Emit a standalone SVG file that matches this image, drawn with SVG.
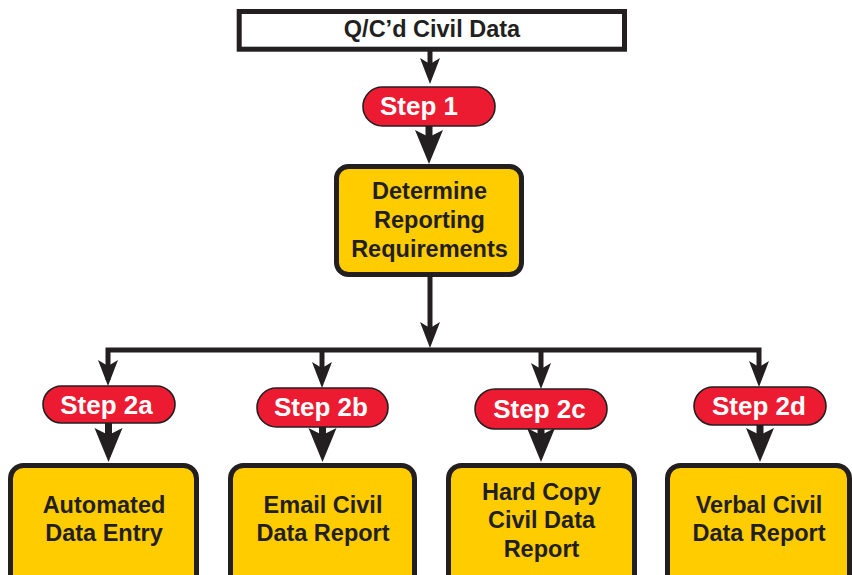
<svg xmlns="http://www.w3.org/2000/svg" width="852" height="575" viewBox="0 0 852 575">
  <style>
    .txt { font-family: "Liberation Sans", Arial, Helvetica, sans-serif; font-weight: bold; text-anchor: middle; fill: #231f20; }
    .big { font-size: 23.5px; }
    .step { font-size: 26px; fill: #ffffff; }
    .box { fill: #ffcc00; stroke: #231f20; stroke-width: 5; }
    .pill { fill: #ed1b31; stroke: #231f20; stroke-width: 1.6; }
    .wire { fill: none; stroke: #231f20; stroke-width: 5; }
    .stem { fill: none; stroke: #231f20; stroke-width: 7; }
    .head { fill: #231f20; }
  </style>
  <defs>
    <!-- notched arrowheads, tip at origin pointing down -->
    <path id="ahS" d="M0,0 L-10,-26 L0,-20 L10,-26 Z"/>
    <path id="ahL" d="M0,0 L-14,-34 L0,-27 L14,-34 Z"/>
  </defs>

  <rect width="852" height="575" fill="#ffffff"/>

  <g id="connectors">
    <!-- source to step 1 -->
    <line class="wire" x1="430" y1="50" x2="430" y2="64"/>
    <use href="#ahS" class="head" x="430" y="84"/>
    <!-- step 1 to determine -->
    <line class="stem" x1="429" y1="126" x2="429" y2="138"/>
    <use href="#ahL" class="head" x="429" y="164"/>
    <!-- determine to bus -->
    <line class="wire" x1="430" y1="277" x2="430" y2="330"/>
    <use href="#ahS" class="head" x="430" y="348"/>
    <!-- distribution bus -->
    <polyline class="wire" points="108,380 108,350 759,350 759,380"/>
    <line class="wire" x1="322" y1="350" x2="322" y2="380"/>
    <line class="wire" x1="541" y1="350" x2="541" y2="380"/>
    <use href="#ahS" class="head" x="108" y="386"/>
    <use href="#ahS" class="head" x="322" y="388"/>
    <use href="#ahS" class="head" x="541" y="389"/>
    <use href="#ahS" class="head" x="759" y="387"/>
    <!-- steps to outputs -->
    <line class="stem" x1="108.5" y1="423" x2="108.5" y2="436"/>
    <use href="#ahL" class="head" x="108.5" y="462"/>
    <line class="stem" x1="322.5" y1="427" x2="322.5" y2="436"/>
    <use href="#ahL" class="head" x="322.5" y="462"/>
    <line class="stem" x1="541" y1="429" x2="541" y2="436"/>
    <use href="#ahL" class="head" x="541" y="462"/>
    <line class="stem" x1="760" y1="425" x2="760" y2="436"/>
    <use href="#ahL" class="head" x="760" y="462"/>
  </g>

  <g id="source">
    <rect x="239.2" y="11.5" width="385.3" height="37.7" fill="#ffffff" stroke="#231f20" stroke-width="5"/>
    <text class="txt big" x="432" y="36.5">Q/C’d Civil Data</text>
  </g>

  <g id="step1">
    <rect class="pill" x="363" y="87" width="132" height="39" rx="19.5"/>
    <text class="txt step" x="419" y="115">Step 1</text>
  </g>

  <g id="determine">
    <rect class="box" x="336.5" y="166.5" width="185" height="108" rx="12"/>
    <text class="txt big" x="429.5" y="198.5">Determine</text>
    <text class="txt big" x="429.5" y="227.7">Reporting</text>
    <text class="txt big" x="429.5" y="256.7">Requirements</text>
  </g>

  <g id="step2a">
    <rect class="pill" x="43" y="386" width="132" height="37" rx="18.5"/>
    <text class="txt step" x="106.5" y="413.5">Step 2a</text>
  </g>
  <g id="step2b">
    <rect class="pill" x="257" y="388" width="131" height="39" rx="19.5"/>
    <text class="txt step" x="321" y="416">Step 2b</text>
  </g>
  <g id="step2c">
    <rect class="pill" x="475" y="389" width="132" height="40" rx="20"/>
    <text class="txt step" x="539.5" y="417.5">Step 2c</text>
  </g>
  <g id="step2d">
    <rect class="pill" x="694" y="387" width="132" height="38" rx="19"/>
    <text class="txt step" x="759" y="414.5">Step 2d</text>
  </g>

  <g id="automated">
    <rect class="box" x="10.5" y="465.5" width="186" height="130" rx="13"/>
    <text class="txt big" x="104" y="512.5">Automated</text>
    <text class="txt big" x="104" y="541">Data Entry</text>
  </g>
  <g id="email">
    <rect class="box" x="230.5" y="465.5" width="184" height="130" rx="13"/>
    <text class="txt big" x="323" y="512.5">Email Civil</text>
    <text class="txt big" x="323" y="541">Data Report</text>
  </g>
  <g id="hardcopy">
    <rect class="box" x="448.5" y="465.5" width="186" height="130" rx="13"/>
    <text class="txt big" x="541.5" y="499.5">Hard Copy</text>
    <text class="txt big" x="541.5" y="528">Civil Data</text>
    <text class="txt big" x="541.5" y="556.7">Report</text>
  </g>
  <g id="verbal">
    <rect class="box" x="667.5" y="465.5" width="182" height="130" rx="13"/>
    <text class="txt big" x="759" y="512.7">Verbal Civil</text>
    <text class="txt big" x="759" y="541">Data Report</text>
  </g>
</svg>
